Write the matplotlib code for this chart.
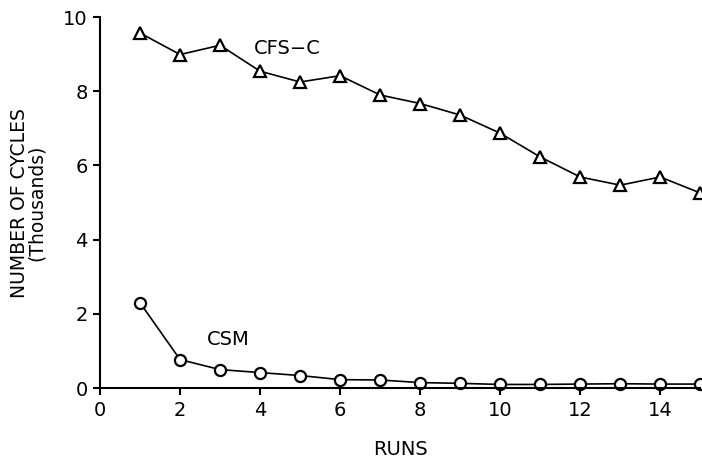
import matplotlib
matplotlib.use("Agg")
import matplotlib.pyplot as plt

runs = [1, 2, 3, 4, 5, 6, 7, 8, 9, 10, 11, 12, 13, 14, 15]
cfs_c = [9.57, 8.99, 9.24, 8.54, 8.25, 8.42, 7.90, 7.67, 7.36, 6.87, 6.23, 5.69, 5.47, 5.69, 5.26]
csm = [2.30, 0.77, 0.50, 0.42, 0.34, 0.23, 0.22, 0.15, 0.13, 0.10, 0.10, 0.11, 0.12, 0.11, 0.11]

plt.rcParams['font.family'] = ['DejaVu Sans']

fig = plt.figure(figsize=(7.02, 4.61), dpi=100)
ax = fig.add_axes([0.1425, 0.158, 0.855, 0.805])

ax.plot(runs, cfs_c, color='black', linewidth=1.2, marker='^', markersize=8.5,
        markerfacecolor='white', markeredgecolor='black', markeredgewidth=1.6, clip_on=False)
ax.plot(runs, csm, color='black', linewidth=1.2, marker='o', markersize=8,
        markerfacecolor='white', markeredgecolor='black', markeredgewidth=1.6, clip_on=False)

ax.text(4.68, 9.15, 'CFS\u2212C', fontsize=14, ha='center', va='center')
ax.text(3.2, 1.3, 'CSM', fontsize=14, ha='center', va='center')

ax.set_xlim(0, 15)
ax.set_ylim(0, 10)
ax.set_xticks([0, 2, 4, 6, 8, 10, 12, 14])
ax.set_yticks([0, 2, 4, 6, 8, 10])

ax.spines['top'].set_visible(False)
ax.spines['right'].set_visible(False)
ax.spines['left'].set_linewidth(1.5)
ax.spines['bottom'].set_linewidth(1.5)
ax.tick_params(direction='out', length=5, width=1.5, labelsize=14, pad=4)

ax.set_xlabel('RUNS', fontsize=14, labelpad=15)
ax.set_ylabel('NUMBER OF CYCLES\n(Thousands)', fontsize=13.5, labelpad=12, linespacing=0.9)

fig.savefig('out.png', dpi=100)
